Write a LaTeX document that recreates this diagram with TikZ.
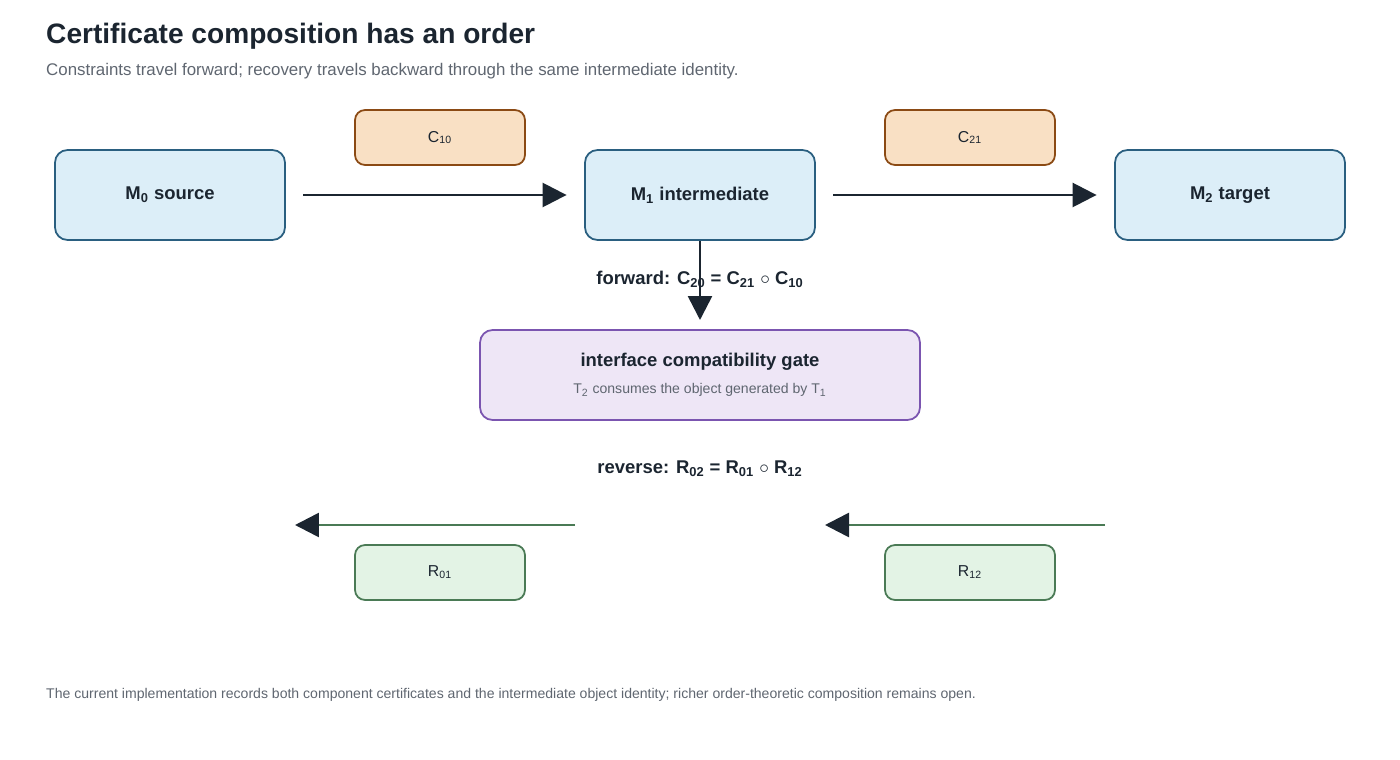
\documentclass[tikz,border=0pt]{standalone}
\usepackage{fontspec}
\setmainfont{Liberation Sans}
\usetikzlibrary{arrows.meta,positioning}
\definecolor{ink}{HTML}{1B2530}
\definecolor{muted}{HTML}{5F6670}
\definecolor{modfill}{HTML}{DCEEF8}
\definecolor{moddraw}{HTML}{2A5F80}
\definecolor{cerfill}{HTML}{F9E0C4}
\definecolor{cerdraw}{HTML}{8B4A14}
\definecolor{gatefill}{HTML}{EEE6F6}
\definecolor{gatedraw}{HTML}{7B55B0}
\definecolor{recfill}{HTML}{E3F3E5}
\definecolor{recdraw}{HTML}{4A7A55}
\tikzset{
	model/.style={draw=moddraw, fill=modfill, line width=1pt, rounded corners=2.5mm, minimum width=4.6cm, minimum height=1.8cm, font=\fontsize{10.5}{12}\selectfont\bfseries, text=ink},
	cert/.style={draw=cerdraw, fill=cerfill, line width=1pt, rounded corners=2mm, minimum width=3.4cm, minimum height=1.1cm, font=\fontsize{9}{11}\selectfont, text=ink},
	recov/.style={cert, draw=recdraw, fill=recfill},
	gate/.style={draw=gatedraw, fill=gatefill, line width=1pt, rounded corners=2.5mm, minimum width=8.8cm, minimum height=1.8cm},
	flow/.style={draw=ink, line width=1.5pt, -{Triangle[length=4.8mm,width=4.8mm]}},
	back/.style={draw=recdraw, line width=1.5pt, -{Triangle[length=4.8mm,width=4.8mm,color=ink]}},
	lbl/.style={font=\fontsize{10.5}{12}\selectfont\bfseries, text=ink}
}
\begin{document}
\begin{tikzpicture}[x=0.02cm, y=-0.02cm]
	\useasboundingbox (0,0) rectangle (1400,760);
	% title and notes
	\node[anchor=west, text=ink, font=\fontsize{16}{19}\selectfont\bfseries] (title) at (40,36) {Certificate composition has an order};
	\node[anchor=west, text=muted, font=\fontsize{9.6}{12}\selectfont] (subtitle) at (40,71) {Constraints travel forward; recovery travels backward through the same intermediate identity.};
	\node[anchor=west, text=muted, font=\fontsize{8}{10}\selectfont] (footer) at (40,695) {The current implementation records both component certificates and the intermediate object identity; richer order-theoretic composition remains open.};
	
	% models
	\node[model] (m0) at (170,195) {M\textsubscript{0} source};
	\node[model] (m1) at (700,195) {M\textsubscript{1} intermediate};
	\node[model] (m2) at (1230,195) {M\textsubscript{2} target};
	\node[cert] (c10) at (440,137.5) {C\textsubscript{10}};
	\node[cert] (c21) at (970,137.5) {C\textsubscript{21}};
	
	% gate
	\node[gate] (gate) at (700,375) {};
	\node[text=ink, font=\fontsize{10.5}{12}\selectfont\bfseries] (gate-title) at (700,362) {interface compatibility gate};
	\node[text=muted, font=\fontsize{8}{10}\selectfont] (gate-note) at (700,390) {T\textsubscript{2} consumes the object generated by T\textsubscript{1}};
	\coordinate (gate-in) at (700,320);
	
	\node[lbl] (fwd) at (700,279) {forward: C\textsubscript{20} = C\textsubscript{21} $\circ$ C\textsubscript{10}};
	\node[lbl] (rev) at (700,469) {reverse: R\textsubscript{02} = R\textsubscript{01} $\circ$ R\textsubscript{12}};
	
	% recovery
	\node[recov] (r01) at (440,572.5) {R\textsubscript{01}};
	\node[recov] (r12) at (970,572.5) {R\textsubscript{12}};
	\coordinate (r01-a) at (575,525);
	\coordinate (r01-b) at (295,525);
	\coordinate (r12-a) at (1105,525);
	\coordinate (r12-b) at (825,525);
	
	\draw[flow] ([xshift=10]m0.east) -- ([xshift=-10]m1.west);
	\draw[flow] ([xshift=10]m1.east) -- ([xshift=-10]m2.west);
	\draw[flow] (m1.south) -- (gate-in);
	\draw[back] (r01-a) -- (r01-b);
	\draw[back] (r12-a) -- (r12-b);
\end{tikzpicture}
\end{document}
